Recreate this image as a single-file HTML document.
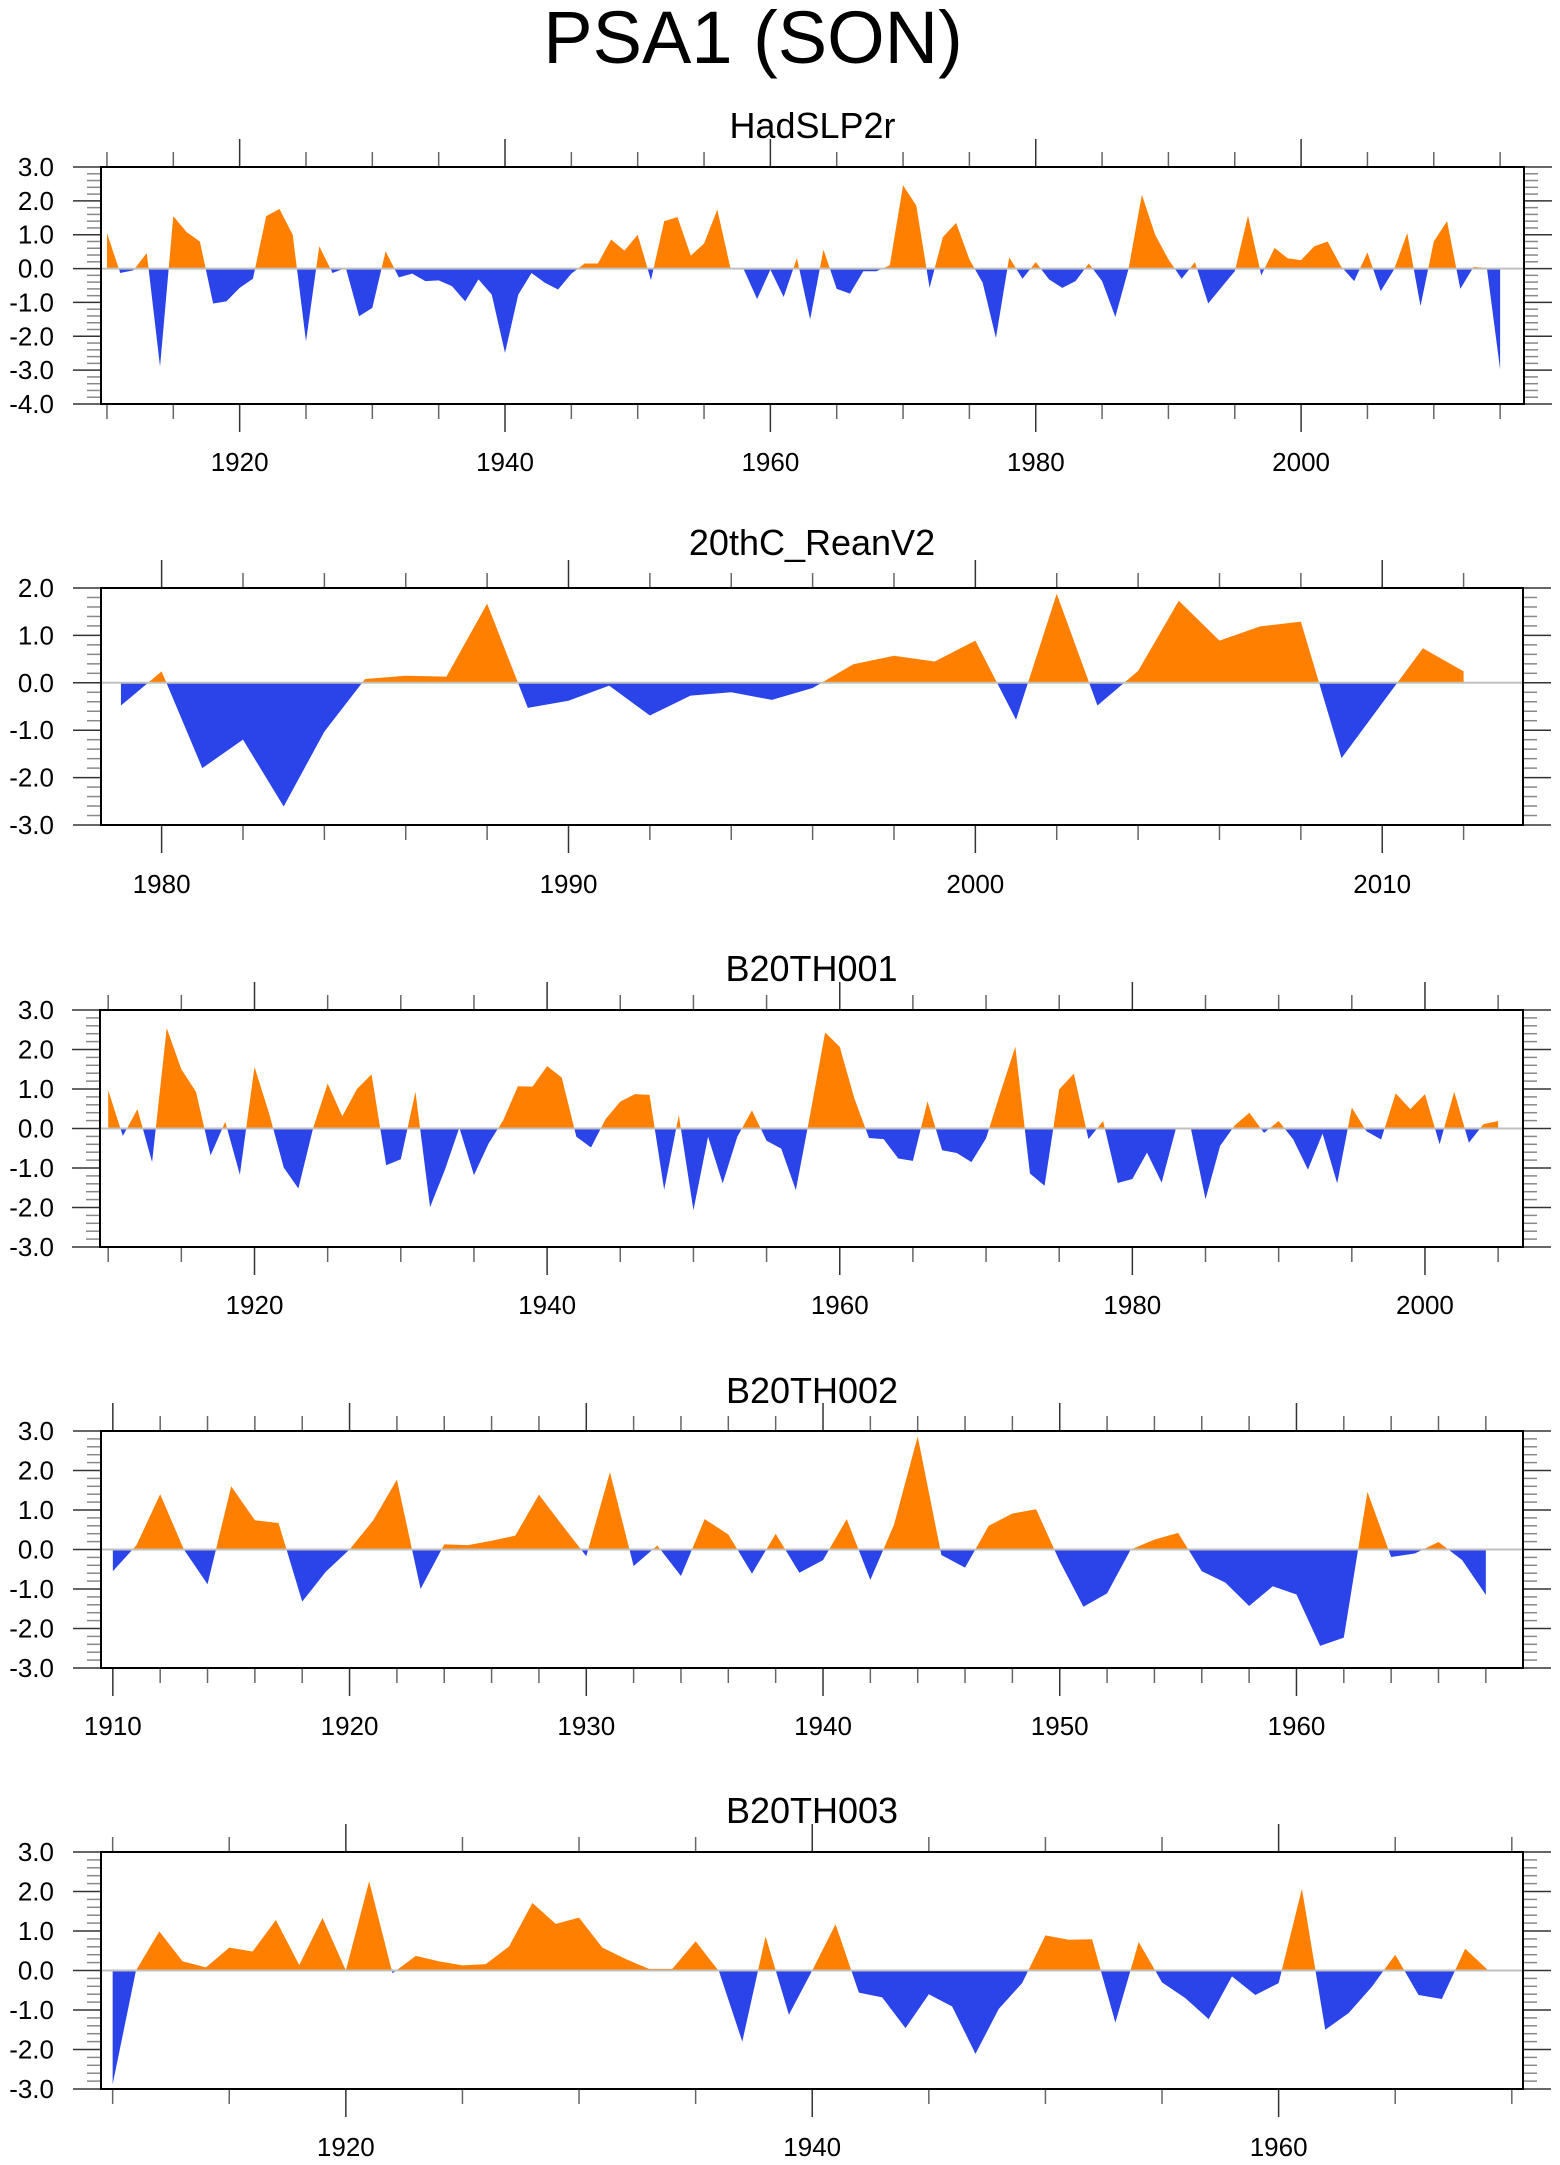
<!DOCTYPE html>
<html><head><meta charset="utf-8"><style>
html,body{margin:0;padding:0;background:#fff;}
svg{display:block;font-family:"Liberation Sans",Arial,sans-serif;}
</style></head><body>
<svg id="chart" width="1560" height="2165" viewBox="0 0 1560 2165" xmlns="http://www.w3.org/2000/svg">
<text x="753" y="63" font-size="74" text-anchor="middle">PSA1 (SON)</text>
</svg>
<script>
const hadYears0 = 1910;
const hadValues = [1.05,-0.13,-0.05,0.46,-2.9,1.55,1.08,0.8,-1.03,-0.97,-0.57,-0.3,1.55,1.76,1.0,-2.15,0.66,-0.13,0.02,-1.41,-1.16,0.51,-0.26,-0.15,-0.37,-0.35,-0.52,-0.97,-0.32,-0.77,-2.49,-0.77,-0.13,-0.42,-0.62,-0.15,0.15,0.15,0.86,0.53,1.0,-0.34,1.4,1.52,0.38,0.74,1.74,0.0,-0.03,-0.9,-0.03,-0.84,0.31,-1.5,0.56,-0.6,-0.74,-0.08,-0.08,0.1,2.46,1.86,-0.57,0.93,1.35,0.27,-0.42,-2.05,0.33,-0.3,0.19,-0.32,-0.57,-0.37,0.15,-0.37,-1.43,0.0,2.18,1.0,0.27,-0.3,0.19,-1.03,-0.55,-0.08,1.56,-0.2,0.61,0.3,0.25,0.66,0.8,0.07,-0.37,0.48,-0.67,-0.03,1.05,-1.11,0.8,1.4,-0.6,0.05,0.02,-2.98];
const reanYears0 = 1979;
const reanValues = [-0.48,0.24,-1.8,-1.2,-2.61,-1.03,0.08,0.15,0.13,1.67,-0.53,-0.38,-0.06,-0.69,-0.27,-0.2,-0.36,-0.11,0.39,0.57,0.45,0.89,-0.78,1.88,-0.48,0.25,1.73,0.89,1.19,1.29,-1.59,-0.43,0.73,0.24];
const b001Years0 = 1910;
const b001Values = [0.97,-0.19,0.49,-0.85,2.54,1.5,0.93,-0.68,0.17,-1.17,1.56,0.38,-0.99,-1.52,0.0,1.14,0.31,1.0,1.37,-0.93,-0.78,0.93,-1.99,-1.06,0.02,-1.18,-0.38,0.21,1.07,1.06,1.58,1.29,-0.21,-0.48,0.24,0.68,0.87,0.85,-1.55,0.34,-2.07,-0.21,-1.39,-0.21,0.46,-0.31,-0.51,-1.56,0.4,2.43,2.07,0.76,-0.24,-0.27,-0.76,-0.82,0.69,-0.55,-0.62,-0.85,-0.25,0.93,2.07,-1.14,-1.45,0.99,1.39,-0.27,0.19,-1.38,-1.28,-0.61,-1.37,0.03,0.0,-1.79,-0.44,0.08,0.4,-0.11,0.19,-0.28,-1.04,-0.13,-1.39,0.53,-0.07,-0.28,0.89,0.49,0.87,-0.4,0.93,-0.36,0.11,0.19];
const b002Years0 = 1910;
const b002Values = [-0.55,0.11,1.4,0.0,-0.88,1.6,0.74,0.67,-1.32,-0.56,0.0,0.74,1.77,-1.0,0.13,0.11,0.22,0.35,1.39,0.6,-0.17,1.96,-0.42,0.1,-0.67,0.77,0.38,-0.61,0.4,-0.59,-0.27,0.77,-0.77,0.63,2.86,-0.14,-0.46,0.6,0.91,1.02,-0.3,-1.45,-1.11,0.0,0.25,0.42,-0.55,-0.84,-1.43,-0.93,-1.14,-2.44,-2.23,1.46,-0.19,-0.1,0.19,-0.27,-1.15];
const b003Years0 = 1910;
const b003Values = [-2.88,0.0,0.99,0.23,0.08,0.58,0.48,1.28,0.14,1.33,0.0,2.26,-0.07,0.37,0.23,0.13,0.16,0.61,1.71,1.18,1.34,0.58,0.29,0.04,0.04,0.74,-0.02,-1.8,0.86,-1.12,0.0,1.17,-0.56,-0.68,-1.46,-0.6,-0.91,-2.11,-0.97,-0.32,0.89,0.78,0.79,-1.32,0.72,-0.3,-0.7,-1.23,-0.15,-0.62,-0.32,2.07,-1.5,-1.08,-0.41,0.4,-0.62,-0.72,0.55,0.0];

const hadXLabels = [1920,1940,1960,1980,2000];
const reanXLabels = [1980,1990,2000,2010];
const b001XLabels = [1920,1940,1960,1980,2000];
const b002XLabels = [1910,1920,1930,1940,1950,1960];
const b003XLabels = [1920,1940,1960];
const hadYLabels = [3,2,1,0,-1,-2,-3,-4];
const reanYLabels = [2,1,0,-1,-2,-3];
const b001YLabels = [3,2,1,0,-1,-2,-3];
const b002YLabels = [3,2,1,0,-1,-2,-3];
const b003YLabels = [3,2,1,0,-1,-2,-3];

const NS = "http://www.w3.org/2000/svg";
const svg = document.getElementById('chart');
function mk(tag, attrs, parent){
  const e = document.createElementNS(NS, tag);
  for (const k in attrs) e.setAttribute(k, attrs[k]);
  (parent||svg).appendChild(e);
  return e;
}
const panels = [
 {key:'hadslp2r', title:'HadSLP2r', titleY:138, y0:hadYears0, vals:hadValues, xl:hadXLabels, yl:hadYLabels, L:101,R:1524,T:167,B:404, xmin:1909.55,xmax:2016.8, ymin:-4,ymax:3, minorStep:5, majorStart:1910, minorEnd:2015, labY:471},
 {key:'20thc-reanv2', title:'20thC_ReanV2', titleY:555, y0:reanYears0, vals:reanValues, xl:reanXLabels, yl:reanYLabels, L:101,R:1523,T:588,B:825, xmin:1978.51,xmax:2013.46, ymin:-3,ymax:2, minorStep:2, majorStart:1980, minorEnd:2012, labY:893},
 {key:'b20th001', title:'B20TH001', titleY:981, y0:b001Years0, vals:b001Values, xl:b001XLabels, yl:b001YLabels, L:100,R:1523,T:1010,B:1247, xmin:1909.44,xmax:2006.7, ymin:-3,ymax:3, minorStep:5, majorStart:1910, minorEnd:2005, labY:1314},
 {key:'b20th002', title:'B20TH002', titleY:1403, y0:b002Years0, vals:b002Values, xl:b002XLabels, yl:b002YLabels, L:101,R:1523,T:1431,B:1668, xmin:1909.5,xmax:1969.57, ymin:-3,ymax:3, minorStep:2, majorStart:1910, minorEnd:1968, labY:1735},
 {key:'b20th003', title:'B20TH003', titleY:1823, y0:b003Years0, vals:b003Values, xl:b003XLabels, yl:b003YLabels, L:101,R:1523,T:1852,B:2089, xmin:1909.5,xmax:1970.48, ymin:-3,ymax:3, minorStep:5, majorStart:1910, minorEnd:1970, labY:2156}
];
panels.forEach((p, i) => {
  const g = mk('g', {});
  
  
  const xs = yr => p.L + (yr - p.xmin) / (p.xmax - p.xmin) * (p.R - p.L);
  const ys = v => p.B - (v - p.ymin) / (p.ymax - p.ymin) * (p.B - p.T);
  const zy = ys(0);
  const defs = mk('defs', {}, g);
  const cpA = mk('clipPath', {id:'ca'+i}, defs);
  mk('rect', {x:p.L, y:p.T, width:p.R-p.L, height:zy-p.T}, cpA);
  const cpB = mk('clipPath', {id:'cb'+i}, defs);
  mk('rect', {x:p.L, y:zy, width:p.R-p.L, height:p.B-zy}, cpB);
  let pts = xs(p.y0).toFixed(2) + ',' + zy.toFixed(2) + ' ';
  p.vals.forEach((v, k) => { pts += xs(p.y0 + k).toFixed(2) + ',' + ys(v).toFixed(2) + ' '; });
  pts += xs(p.y0 + p.vals.length - 1).toFixed(2) + ',' + zy.toFixed(2);
  const pos = mk('polygon', {points:pts, fill:'#ff8000', 'clip-path':'url(#ca'+i+')'}, g);
  
  
  const neg = mk('polygon', {points:pts, fill:'#2a44ea', 'clip-path':'url(#cb'+i+')'}, g);
  
  
  const zl = mk('line', {x1:p.L, x2:p.R, y1:zy, y2:zy, stroke:'#c0c0c0', 'stroke-width':2}, g);
  
  
  for (let yr = p.majorStart; yr <= p.minorEnd + 0.01; yr += p.minorStep) {
    const major = p.xl.indexOf(yr) >= 0;
    const len = major ? 28 : 15;
    const x = xs(yr);
    mk('line', {x1:x, x2:x, y1:p.T, y2:p.T-len, stroke: major ? '#333' : '#666', 'stroke-width':1.5}, g);
    mk('line', {x1:x, x2:x, y1:p.B, y2:p.B+len, stroke: major ? '#333' : '#666', 'stroke-width':1.5}, g);
  }
  p.xl.forEach(yr => {
    const t = mk('text', {x:xs(yr), y:p.labY, 'font-size':26, 'text-anchor':'middle'}, g);
    t.textContent = yr;
    
    
  });
  for (let v = p.ymin; v <= p.ymax + 1e-6; v += 0.2) {
    const vv = Math.round(v * 10) / 10;
    const major = Math.abs(vv - Math.round(vv)) < 1e-6;
    const len = major ? 28 : 14;
    const y = ys(vv);
    mk('line', {x1:p.L, x2:p.L-len, y1:y, y2:y, stroke: major ? '#333' : '#888', 'stroke-width':1.5}, g);
    mk('line', {x1:p.R, x2:p.R+len, y1:y, y2:y, stroke: major ? '#333' : '#888', 'stroke-width':1.5}, g);
  }
  p.yl.forEach(v => {
    const t = mk('text', {x:54, y:ys(v)+9, 'font-size':26, 'text-anchor':'end'}, g);
    t.textContent = v.toFixed(1);
    
    
  });
  const fr = mk('rect', {x:p.L, y:p.T, width:p.R-p.L, height:p.B-p.T, fill:'none', stroke:'#000', 'stroke-width':2}, g);
  
  
  const tt = mk('text', {x:(p.L+p.R)/2, y:p.titleY, 'font-size':36, 'text-anchor':'middle'}, g);
  tt.textContent = p.title;
  
  
});
</script>
</body></html>
